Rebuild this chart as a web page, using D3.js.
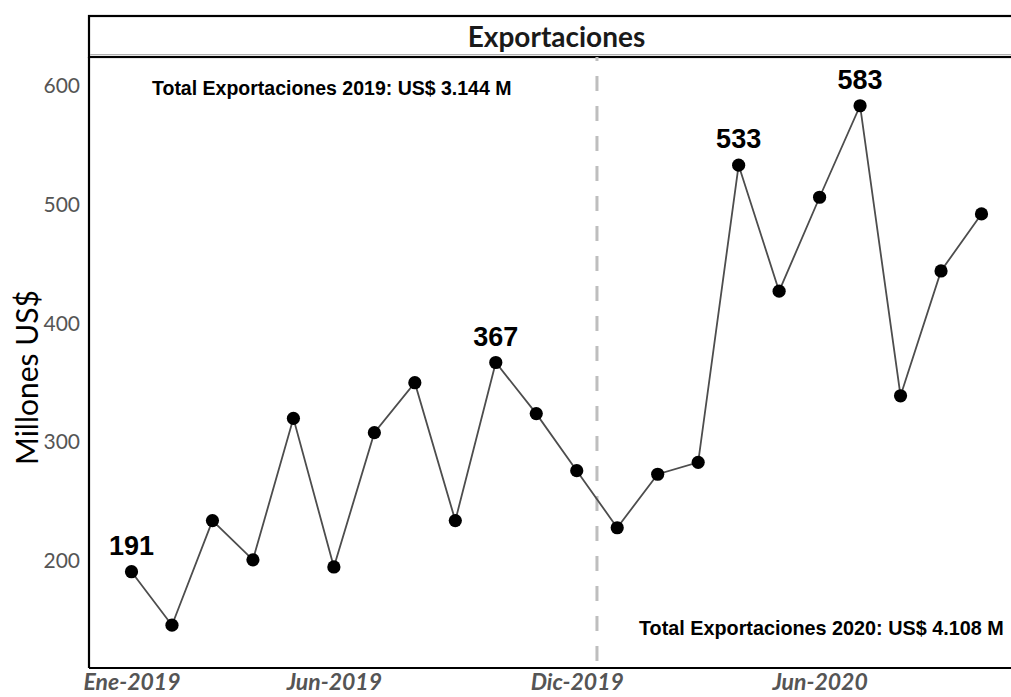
<!DOCTYPE html>
<html>
<head>
<meta charset="utf-8">
<script src="https://cdn.jsdelivr.net/npm/d3@7"></script>
<style>
  html, body { margin: 0; padding: 0; background: #ffffff; }
  svg { display: block; }
</style>
</head>
<body>
<svg id="chart" width="1011" height="697"></svg>
<script>
// Monthly exports, millions of US$
const months = [
  "Ene-2019","Feb-2019","Mar-2019","Abr-2019","May-2019","Jun-2019",
  "Jul-2019","Ago-2019","Sep-2019","Oct-2019","Nov-2019","Dic-2019",
  "Ene-2020","Feb-2020","Mar-2020","Abr-2020","May-2020","Jun-2020",
  "Jul-2020","Ago-2020","Sep-2020","Oct-2020"
];
const exportValues = [
  191, 146, 234, 201, 320, 195, 308, 350, 234, 367, 324, 276,
  228, 273, 283, 533, 427, 506, 583, 339, 444, 492
];
const labelledMonths = ["Ene-2019", "Oct-2019", "Abr-2020", "Jul-2020"];
const tickMonths = ["Ene-2019", "Jun-2019", "Dic-2019", "Jun-2020"];
const yTicks = [200, 300, 400, 500, 600];
const panelTitle = "Exportaciones";
const yTitle = "Millones US$";
const note2019 = "Total Exportaciones 2019: US$ 3.144 M";
const note2020 = "Total Exportaciones 2020: US$ 4.108 M";

const svg = d3.select("#chart");
const panel = { left: 89, right: 1024, top: 57, bottom: 668 };
const strip = { top: 16, bottom: 57 };

const x = d3.scalePoint()
  .domain(months)
  .range([panel.left, panel.right])
  .padding(1.05);

const y = d3.scaleLinear()
  .domain([110, 624])
  .range([panel.bottom, panel.top]);

const data = months.map((m, i) => ({ month: m, value: exportValues[i] }));

// facet strip
svg.append("rect")
  .attr("x", panel.left)
  .attr("y", strip.top)
  .attr("width", panel.right - panel.left)
  .attr("height", strip.bottom - strip.top)
  .attr("fill", "#ffffff")
  .attr("stroke", "#000000")
  .attr("stroke-width", 2.2);

svg.append("line")
  .attr("x1", panel.left + 1).attr("x2", panel.right)
  .attr("y1", strip.bottom - 2.5).attr("y2", strip.bottom - 2.5)
  .attr("stroke", "#b0b0b0")
  .attr("stroke-width", 1);

svg.append("text")
  .attr("x", (panel.left + panel.right) / 2)
  .attr("y", (strip.top + strip.bottom) / 2)
  .attr("dy", "0.36em")
  .attr("text-anchor", "middle")
  .attr("font-family", "Lato, 'Open Sans', sans-serif")
  .attr("font-weight", 700)
  .attr("font-size", 28)
  .attr("fill", "#1a1a1a")
  .text(panelTitle);

// year separator between Dic-2019 and Ene-2020
const sepX = (x("Dic-2019") + x("Ene-2020")) / 2;
svg.append("line")
  .attr("x1", sepX).attr("x2", sepX)
  .attr("y1", panel.top).attr("y2", panel.bottom)
  .attr("stroke", "#bebebe")
  .attr("stroke-width", 3)
  .attr("stroke-dasharray", "15,15")
  .attr("stroke-dashoffset", 11);

// axes
const yAxis = d3.axisLeft(y)
  .tickValues(yTicks)
  .tickSize(0)
  .tickPadding(9);

const yG = svg.append("g")
  .attr("transform", `translate(${panel.left},0)`)
  .call(yAxis);
yG.select(".domain")
  .attr("d", `M0,${panel.top}V${panel.bottom}`)
  .attr("stroke", "#000")
  .attr("stroke-width", 2.2);
yG.selectAll("text")
  .attr("font-family", "Lato, 'Open Sans', sans-serif")
  .attr("font-size", 21)
  .attr("fill", "#555555");

const xAxis = d3.axisBottom(x)
  .tickValues(tickMonths)
  .tickSize(0)
  .tickPadding(6);

const xG = svg.append("g")
  .attr("transform", `translate(0,${panel.bottom})`)
  .call(xAxis);
xG.select(".domain")
  .attr("d", `M${panel.left},0H${panel.right}`)
  .attr("stroke", "#000")
  .attr("stroke-width", 2.2);
xG.selectAll("text")
  .attr("font-family", "Lato, 'Open Sans', sans-serif")
  .attr("font-size", 23)
  .attr("font-weight", 700)
  .attr("font-style", "italic")
  .attr("fill", "#555555");

svg.append("text")
  .attr("transform", `translate(27,${(panel.top + panel.bottom) / 2 + 15}) rotate(-90)`)
  .attr("text-anchor", "middle")
  .attr("dy", "0.36em")
  .attr("font-family", "Lato, 'Open Sans', sans-serif")
  .attr("font-size", 30)
  .attr("fill", "#000")
  .text(yTitle);

// series line and points
const line = d3.line()
  .x(d => x(d.month))
  .y(d => y(d.value));

svg.append("path")
  .datum(data)
  .attr("d", line)
  .attr("fill", "none")
  .attr("stroke", "#4d4d4d")
  .attr("stroke-width", 1.8);

svg.append("g")
  .selectAll("circle")
  .data(data)
  .join("circle")
  .attr("cx", d => x(d.month))
  .attr("cy", d => y(d.value))
  .attr("r", 6.6)
  .attr("fill", "#000");

// value labels for highlighted months
svg.append("g")
  .selectAll("text")
  .data(data.filter(d => labelledMonths.includes(d.month)))
  .join("text")
  .attr("x", d => x(d.month))
  .attr("y", d => y(d.value) - 17)
  .attr("text-anchor", "middle")
  .attr("font-family", "'Liberation Sans', Arial, sans-serif")
  .attr("font-weight", 700)
  .attr("font-size", 27)
  .attr("fill", "#000")
  .text(d => d.value);

// yearly totals
svg.append("text")
  .attr("x", 152)
  .attr("y", 95)
  .attr("font-family", "'Liberation Sans', Arial, sans-serif")
  .attr("font-weight", 700)
  .attr("font-size", 19.5)
  .attr("fill", "#000")
  .text(note2019);

svg.append("text")
  .attr("x", 639)
  .attr("y", 635)
  .attr("font-family", "'Liberation Sans', Arial, sans-serif")
  .attr("font-weight", 700)
  .attr("font-size", 19.8)
  .attr("fill", "#000")
  .text(note2020);
</script>
</body>
</html>
